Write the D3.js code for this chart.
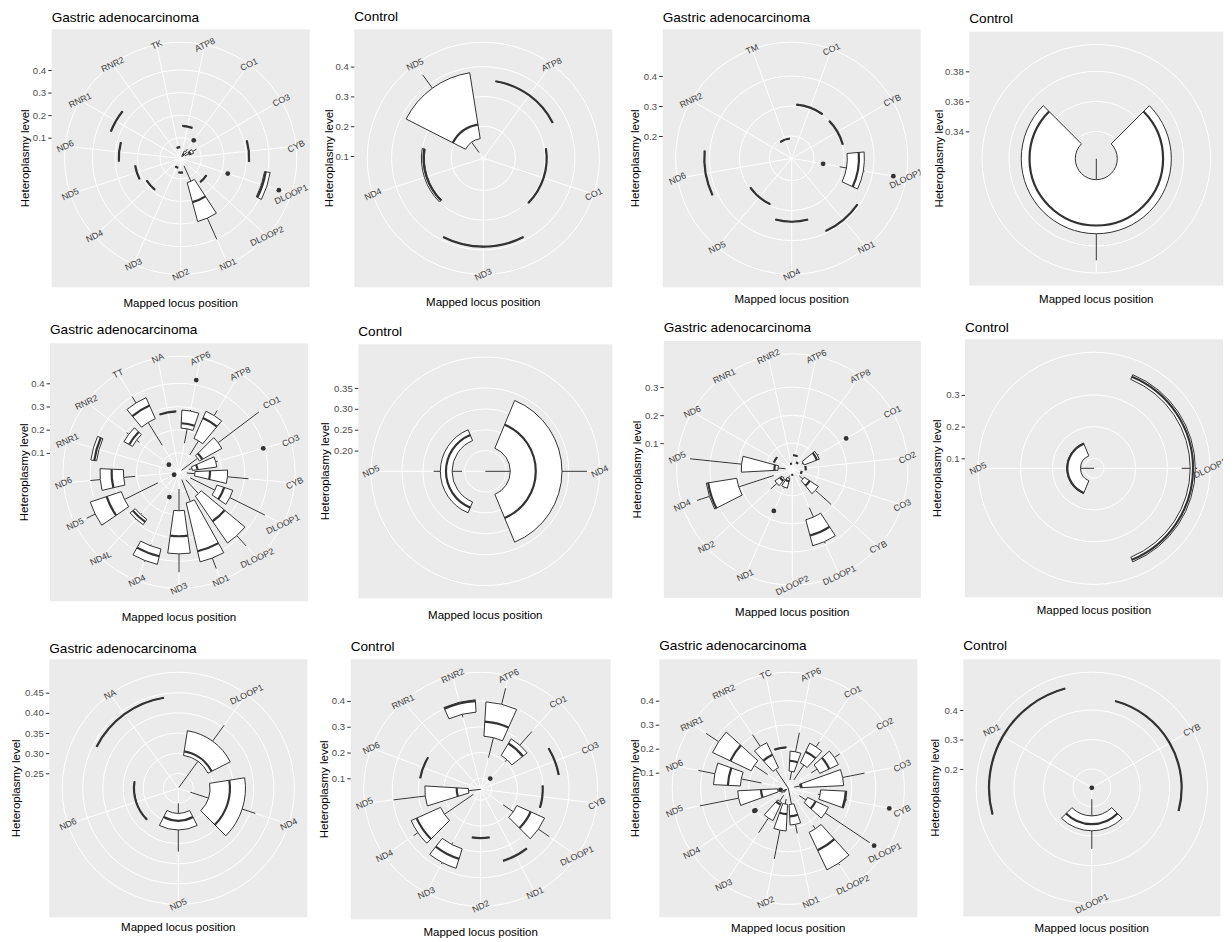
<!DOCTYPE html>
<html>
<head>
<meta charset="utf-8">
<script src="https://cdn.jsdelivr.net/npm/d3@7"></script>
<style>
  body { margin: 0; background: #ffffff; }
  svg text { font-family: "Liberation Sans", Arial, Helvetica, sans-serif; }
</style>
</head>
<body>
<svg id="fig" width="1232" height="942"></svg>
<script>
// ---------- data: one block per panel ----------
// boxes: [min, lower hinge, median, upper hinge, max] per locus (null = nothing drawn)

const titles = ["Gastric adenocarcinoma", "Control", "Gastric adenocarcinoma", "Control",
                "Gastric adenocarcinoma", "Control", "Gastric adenocarcinoma", "Control",
                "Gastric adenocarcinoma", "Control", "Gastric adenocarcinoma", "Control"];

const p1Loci = ["ATP8","CO1","CO3","CYB","DLOOP1","DLOOP2","ND1","ND2","ND3","ND4","ND5","ND6","RNR1","RNR2","TK"];
const p1Boxes = [[0.153,0.153,0.153,0.153,0.153],[0.015,0.02,0.03,0.045,0.06],[0.03,0.05,0.055,0.07,0.09],
  [0.312,0.312,0.312,0.312,0.312],[0.38,0.385,0.39,0.41,0.412],[0.145,0.145,0.145,0.145,0.145],
  [0.045,0.12,0.21,0.299,0.402],[0.072,0.072,0.072,0.072,0.072],[0.052,0.052,0.052,0.052,0.052],
  [0.189,0.189,0.189,0.189,0.189],[0.213,0.213,0.213,0.213,0.213],[0.283,0.283,0.283,0.283,0.283],
  [0.34,0.34,0.34,0.34,0.34],null,[0.058,0.058,0.058,0.058,0.058]];
const p1Outliers = [["CO1",0.107],["DLOOP1",0.228],["DLOOP1",0.466]];
const p1Ticks = ["0.1","0.2","0.3","0.4"];
const p1Limits = [0.0087, 0.466];

const p2Loci = ["ATP8","CO1","ND3","ND4","ND5"];
const p2Boxes = [[0.354,0.354,0.354,0.354,0.354],[0.305,0.305,0.305,0.305,0.305],[0.389,0.389,0.389,0.389,0.389],
  [0.29,0.29,0.293,0.30,0.30],[0.116,0.159,0.207,0.383,0.4386]];
const p2Outliers = [];
const p2Ticks = ["0.1","0.2","0.3","0.4"];
const p2Limits = [0.0923, 0.4386];

const p3Loci = ["CO1","CYB","DLOOP1","ND1","ND4","ND5","ND6","RNR2","TM"];
const p3Boxes = [[0.305,0.305,0.305,0.305,0.305],[0.302,0.302,0.302,0.302,0.302],[0.288,0.311,0.35,0.368,0.372],
  [0.3935,0.3935,0.3935,0.3935,0.3935],[0.337,0.337,0.337,0.337,0.337],[0.2946,0.2946,0.2946,0.2946,0.2946],
  [0.417,0.417,0.417,0.417,0.417],null,[0.192,0.192,0.192,0.192,0.192]];
const p3Outliers = [["DLOOP1",0.232],["DLOOP1",0.4697]];
const p3Ticks = ["0.2","0.3","0.4"];
const p3Limits = [0.1257, 0.4697];

const p4Loci = [""];
const p4Boxes = [[0.3218,0.3358,0.3663,0.3718,0.3895]];
const p4Outliers = [];
const p4Ticks = ["0.34","0.36","0.38"];
const p4Limits = [0.3218, 0.3895];

const p5Loci = ["ATP6","ATP8","CO1","CO3","CYB","DLOOP1","DLOOP2","ND1","ND3","ND4","ND4L","ND5","ND6","RNR1","RNR2","TT","NA"];
const p5Boxes = [[0.144,0.207,0.228,0.285,0.29],[0.105,0.176,0.272,0.304,0.33],[0.03,0.117,0.131,0.228,0.448],
  [0.06,0.075,0.097,0.181,0.19],[0.05,0.085,0.15,0.226,0.317],[0.07,0.189,0.222,0.261,0.43],
  [0.06,0.141,0.272,0.386,0.446],[0.05,0.152,0.366,0.413,0.4612],[0.088,0.182,0.292,0.368,0.447],
  [0.35,0.356,0.388,0.424,0.43],[0.255,0.262,0.275,0.29,0.295],[0.118,0.279,0.345,0.42,0.4612],
  [0.206,0.256,0.307,0.357,0.40],[0.375,0.375,0.385,0.40,0.40],[0.23,0.246,0.262,0.288,0.30],
  [0.153,0.269,0.331,0.368,0.401],[0.279,0.279,0.279,0.279,0.279]];
const p5Outliers = [["ATP6",0.421],["CO3",0.394],["ND4",0.131],["ND5",0.04],["RNR2",0.071]];
const p5Ticks = ["0.1","0.2","0.3","0.4"];
const p5Limits = [0.0164, 0.4612];

const p6Loci = ["ND4","ND5"];
const p6Boxes = [[0.1505,0.2103,0.2713,0.334,0.3936],[0.206,0.230,0.2446,0.258,0.274]];
const p6Outliers = [];
const p6Ticks = ["0.20","0.25","0.30","0.35"];
const p6Limits = [0.1505, 0.3936];

const p7Loci = ["ATP6","ATP8","CO1","CO2","CO3","CYB","DLOOP1","DLOOP2","ND1","ND2","ND4","ND5","ND6","RNR1","RNR2"];
const p7Boxes = [[0.057,0.057,0.057,0.057,0.057],[0.035,0.035,0.035,0.035,0.035],[0.045,0.051,0.10,0.109,0.115],
  [0.054,0.054,0.054,0.054,0.054],[0.04,0.04,0.04,0.04,0.04],[0.04,0.057,0.08,0.117,0.193],
  [0.155,0.192,0.25,0.288,0.295],[0.025,0.025,0.025,0.025,0.025],[0.03,0.04,0.05,0.075,0.08],
  [0.045,0.05,0.058,0.08,0.11],[0.076,0.207,0.31,0.317,0.363],[0.03,0.057,0.07,0.188,0.373],
  [0.076,0.076,0.076,0.076,0.076],null,[0.027,0.027,0.027,0.027,0.027]];
const p7Outliers = [["CO1",0.228],["ND1",0.168]];
const p7Ticks = ["0.1","0.2","0.3"];
const p7Limits = [0.006, 0.373];

const p8Loci = ["DLOOP1","ND5"];
const p8Boxes = [[0.345,0.372,0.381,0.388,0.394],[0.0685,0.111,0.1526,0.155,0.155]];
const p8Outliers = [];
const p8Ticks = ["0.1","0.2","0.3"];
const p8Limits = [0.0685, 0.394];

const p9Loci = ["DLOOP1","ND4","ND5","ND6","NA"];
const p9Boxes = [[0.215,0.2955,0.3054,0.3575,0.4063],[0.2442,0.2914,0.341,0.3795,0.414],
  [0.25,0.2748,0.293,0.3162,0.37],[0.3228,0.3228,0.3228,0.3228,0.3228],[0.4403,0.4403,0.4403,0.4403,0.4403]];
const p9Outliers = [];
const p9Ticks = ["0.25","0.30","0.35","0.40","0.45"];
const p9Limits = [0.2128, 0.4689];

const p10Loci = ["ATP6","CO1","CO3","CYB","DLOOP1","ND1","ND2","ND3","ND4","ND5","ND6","RNR1","RNR2"];
const p10Boxes = [[0.184,0.2636,0.32,0.397,0.4605],[0.2,0.211,0.265,0.286,0.357],[0.365,0.365,0.365,0.365,0.365],
  [0.298,0.298,0.298,0.298,0.298],[0.163,0.211,0.270,0.329,0.381],[0.348,0.348,0.348,0.348,0.348],
  [0.247,0.247,0.247,0.247,0.247],[0.29,0.299,0.34,0.378,0.385],[0.092,0.228,0.33,0.353,0.374],
  [0.0574,0.105,0.1504,0.274,0.398],[0.296,0.296,0.296,0.296,0.296],null,[0.345,0.357,0.40,0.405,0.405]];
const p10Outliers = [["CO1",0.113]];
const p10Ticks = ["0.1","0.2","0.3","0.4"];
const p10Limits = [0.0574, 0.4605];

const p11Loci = ["ATP6","CO1","CO2","CO3","CYB","DLOOP1","DLOOP2","ND1","ND2","ND3","ND4","ND5","ND6","RNR1","RNR2","TC"];
const p11Boxes = [[0.07,0.107,0.15,0.19,0.271],[0.077,0.152,0.204,0.243,0.268],[0.15,0.18,0.224,0.266,0.293],
  [0.06,0.085,0.09,0.266,0.359],[0.16,0.17,0.275,0.279,0.285],[0.09,0.124,0.161,0.22,0.443],
  [0.22,0.238,0.321,0.411,0.42],[0.035,0.103,0.152,0.188,0.227],[0.08,0.102,0.143,0.213,0.335],
  [0.07,0.1,0.11,0.184,0.258],[0.04,0.045,0.05,0.06,0.07],[0.077,0.08,0.149,0.246,0.411],
  [0.149,0.235,0.287,0.347,0.417],[0.138,0.206,0.302,0.384,0.447],[0.035,0.13,0.19,0.245,0.304],
  [0.206,0.206,0.206,0.206,0.206]];
const p11Outliers = [["CYB",0.464],["DLOOP1",0.465],["ND4",0.2],["ND4",0.205],["ND5",0.068]];
const p11Ticks = ["0.1","0.2","0.3","0.4"];
const p11Limits = [0.035, 0.465];

const p12Loci = ["CYB","DLOOP1","ND1"];
const p12Boxes = [[0.441,0.441,0.441,0.441,0.441],[0.175,0.2314,0.2595,0.282,0.3436],[0.485,0.485,0.485,0.485,0.485]];
const p12Outliers = [["DLOOP1",0.136]];
const p12Ticks = ["0.2","0.3","0.4"];
const p12Limits = [0.136, 0.485];

// ---------- figure layout (pixels) ----------
const layout = [
  {left: 51.7,  top: 29.3,  size: 258, titleY: 21.5,  xTitleY: 306.5, yTitleX: 28.5},
  {left: 354.3, top: 29.3,  size: 258, titleY: 21,    xTitleY: 306,   yTitleX: 333.3},
  {left: 662.7, top: 29.3,  size: 258, titleY: 22,    xTitleY: 303,   yTitleX: 639.3},
  {left: 969.3, top: 31.7,  size: 254, titleY: 23.3,  xTitleY: 303,   yTitleX: 942.7},
  {left: 50,    top: 343.3, size: 258, titleY: 333.5, xTitleY: 621,   yTitleX: 28},
  {left: 358.3, top: 344.3, size: 254, titleY: 335.5, xTitleY: 619,   yTitleX: 329.3},
  {left: 663.8, top: 341,   size: 257, titleY: 331.7, xTitleY: 616,   yTitleX: 641},
  {left: 965,   top: 339.3, size: 258, titleY: 331.7, xTitleY: 614.3, yTitleX: 941},
  {left: 49.3,  top: 659.3, size: 258, titleY: 652.7, xTitleY: 931,   yTitleX: 20.3},
  {left: 350.7, top: 659.3, size: 260, titleY: 650.7, xTitleY: 936,   yTitleX: 327.7},
  {left: 659.3, top: 659.3, size: 258, titleY: 650,   xTitleY: 931.7, yTitleX: 639.3},
  {left: 963.3, top: 659.3, size: 257, titleY: 650,   xTitleY: 931.7, yTitleX: 938.7}
];

const panels = [
  {loci: p1Loci,  boxes: p1Boxes,  outliers: p1Outliers,  ticks: p1Ticks,  limits: p1Limits},
  {loci: p2Loci,  boxes: p2Boxes,  outliers: p2Outliers,  ticks: p2Ticks,  limits: p2Limits},
  {loci: p3Loci,  boxes: p3Boxes,  outliers: p3Outliers,  ticks: p3Ticks,  limits: p3Limits},
  {loci: p4Loci,  boxes: p4Boxes,  outliers: p4Outliers,  ticks: p4Ticks,  limits: p4Limits},
  {loci: p5Loci,  boxes: p5Boxes,  outliers: p5Outliers,  ticks: p5Ticks,  limits: p5Limits},
  {loci: p6Loci,  boxes: p6Boxes,  outliers: p6Outliers,  ticks: p6Ticks,  limits: p6Limits},
  {loci: p7Loci,  boxes: p7Boxes,  outliers: p7Outliers,  ticks: p7Ticks,  limits: p7Limits},
  {loci: p8Loci,  boxes: p8Boxes,  outliers: p8Outliers,  ticks: p8Ticks,  limits: p8Limits},
  {loci: p9Loci,  boxes: p9Boxes,  outliers: p9Outliers,  ticks: p9Ticks,  limits: p9Limits},
  {loci: p10Loci, boxes: p10Boxes, outliers: p10Outliers, ticks: p10Ticks, limits: p10Limits},
  {loci: p11Loci, boxes: p11Boxes, outliers: p11Outliers, ticks: p11Ticks, limits: p11Limits},
  {loci: p12Loci, boxes: p12Boxes, outliers: p12Outliers, ticks: p12Ticks, limits: p12Limits}
];

// ---------- drawing ----------
const svg = d3.select("#fig");
const defs = svg.append("defs");
const INK = "#333333";
const LABEL_ANGLE = -25;

// circular arc (angle measured clockwise from 12 o'clock)
function arcLine(rad, a0, a1) {
  const p = d3.path();
  p.arc(0, 0, rad, a0 - Math.PI / 2, a1 - Math.PI / 2);
  return p.toString();
}
const polar = (rad, a) => [rad * Math.sin(a), -rad * Math.cos(a)];

panels.forEach((P, i) => {
  const L = layout[i];
  const S = L.size;
  const cx = L.left + S / 2, cy = L.top + S / 2;
  const g = svg.append("g");

  defs.append("clipPath").attr("id", "panel-clip-" + i)
    .append("rect").attr("x", L.left).attr("y", L.top).attr("width", S).attr("height", S);

  g.append("rect").attr("x", L.left).attr("y", L.top).attr("width", S).attr("height", S)
    .attr("fill", "#EBEBEB");

  const plot = g.append("g").attr("clip-path", `url(#panel-clip-${i})`)
    .append("g").attr("transform", `translate(${cx},${cy})`);

  // angular position of each locus, box width 0.75 of a slot
  const theta = d3.scaleBand().domain(P.loci).range([0, 2 * Math.PI])
    .paddingInner(0.25).paddingOuter(0.125);
  const mid = c => theta(c) + theta.bandwidth() / 2;
  const r = d3.scaleLinear().domain(P.limits).range([0, 0.4 * S]);
  const tickVals = P.ticks.map(Number);
  const outer = 0.45 * S;

  // grid: rings at the radial breaks plus the outer ring, spokes at each locus
  const grid = plot.append("g").attr("fill", "none").attr("stroke", "#FFFFFF").attr("stroke-width", 1);
  grid.selectAll("circle.ring").data(tickVals.map(v => r(v)).concat([outer]))
    .join("circle").attr("class", "ring").attr("r", d => d);
  grid.selectAll("line.spoke").data(P.loci).join("line").attr("class", "spoke")
    .attr("x1", 0).attr("y1", 0)
    .attr("x2", c => polar(outer, mid(c))[0]).attr("y2", c => polar(outer, mid(c))[1]);

  // boxplots
  const arcGen = d3.arc();
  const marks = plot.append("g");
  P.loci.forEach((c, k) => {
    const s = P.boxes[k];
    if (!s) return;
    const [mn, q1, md, q3, mx] = s;
    const a0 = theta(c), a1 = theta(c) + theta.bandwidth(), am = mid(c);
    const bg = marks.append("g");
    // whiskers
    [[mn, q1], [q3, mx]].forEach(([u, v]) => {
      if (v - u <= 0) return;
      const p0 = polar(r(u), am), p1 = polar(r(v), am);
      bg.append("line").attr("x1", p0[0]).attr("y1", p0[1]).attr("x2", p1[0]).attr("y2", p1[1])
        .attr("stroke", INK).attr("stroke-width", 1);
    });
    // box
    bg.append("path")
      .attr("d", arcGen({innerRadius: r(q1), outerRadius: r(q3), startAngle: a0, endAngle: a1}))
      .attr("fill", "#FFFFFF").attr("stroke", INK).attr("stroke-width", 1);
    // median
    bg.append("path").attr("d", arcLine(r(md), a0, a1))
      .attr("fill", "none").attr("stroke", INK).attr("stroke-width", 2.2);
  });

  // outliers
  marks.selectAll("circle.outlier").data(P.outliers).join("circle").attr("class", "outlier")
    .attr("cx", d => polar(r(d[1]), mid(d[0]))[0])
    .attr("cy", d => polar(r(d[1]), mid(d[0]))[1])
    .attr("r", 2.4).attr("fill", INK);

  // locus labels on the outer ring
  plot.append("g").selectAll("text").data(P.loci).join("text")
    .attr("transform", c => {
      const [x, y] = polar(outer, mid(c));
      return `translate(${x},${y}) rotate(${LABEL_ANGLE})`;
    })
    .attr("text-anchor", "middle").attr("dominant-baseline", "central")
    .attr("font-size", 8.8).attr("fill", "#3A3A3A")
    .text(c => c);

  // radial axis on the left edge
  const yScale = d3.scaleLinear().domain(P.limits).range([cy, cy - 0.4 * S]);
  const axis = d3.axisLeft(yScale).tickValues(tickVals)
    .tickFormat((d, j) => P.ticks[j]).tickSize(3.5).tickPadding(2);
  const ax = g.append("g").attr("transform", `translate(${L.left},0)`).call(axis);
  ax.select(".domain").remove();
  ax.selectAll(".tick line").attr("stroke", INK);
  ax.selectAll(".tick text").attr("fill", "#4D4D4D").attr("font-size", 9.6)
    .style("font-family", '"Liberation Sans", Arial, sans-serif');

  // titles
  g.append("text").attr("x", L.left).attr("y", L.titleY)
    .attr("font-size", 13.6).attr("fill", "#000").text(titles[i]);
  g.append("text").attr("x", cx).attr("y", L.xTitleY).attr("text-anchor", "middle")
    .attr("font-size", 11.5).attr("fill", "#000").text("Mapped locus position");
  g.append("text").attr("transform", `translate(${L.yTitleX},${cy}) rotate(-90)`)
    .attr("text-anchor", "middle").attr("font-size", 11.5).attr("fill", "#000")
    .text("Heteroplasmy level");
});
</script>
</body>
</html>
